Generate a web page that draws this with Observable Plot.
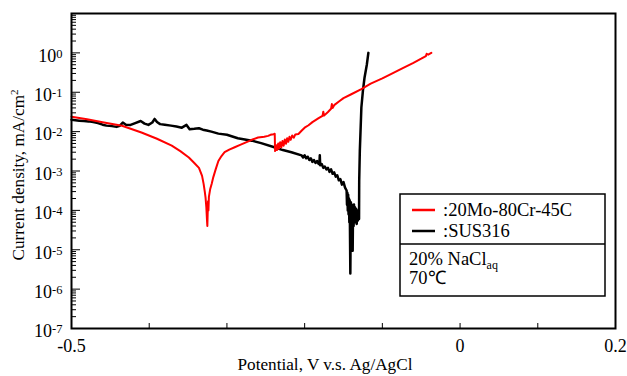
<!DOCTYPE html>
<html>
<head>
<meta charset="utf-8">
<script src="https://cdn.jsdelivr.net/npm/d3@7"></script>
<script src="https://cdn.jsdelivr.net/npm/@observablehq/plot@0.6"></script>
<style>
  html, body { margin: 0; padding: 0; background: #fff; }
  #chart svg { display: block; }
</style>
</head>
<body>
<div id="chart"></div>
<script>
// ---- Data (potential V vs. Ag/AgCl, current density mA/cm^2) ----
const redName = "20Mo-80Cr-45C";
const blackName = "SUS316";

const redV = [-0.500,-0.480,-0.460,-0.435,-0.410,-0.390,-0.371,-0.360,-0.349,-0.342,-0.336,-0.332,-0.330,-0.3285,-0.3275,-0.3265,-0.3255,-0.3252,-0.3248,-0.3243,-0.3238,-0.3232,-0.3215,-0.3195,-0.3176,-0.3145,-0.311,-0.307,-0.303,-0.297,-0.290,-0.283,-0.277,-0.268,-0.260,-0.252,-0.247,-0.244,-0.240,-0.2385,-0.2380,-0.2365,-0.2355,-0.2340,-0.2330,-0.2315,-0.2300,-0.2285,-0.2270,-0.2255,-0.2240,-0.2225,-0.2210,-0.2195,-0.2180,-0.2160,-0.2140,-0.2120,-0.208,-0.204,-0.200,-0.195,-0.190,-0.182,-0.177,-0.176,-0.175,-0.170,-0.166,-0.165,-0.164,-0.162,-0.155,-0.150,-0.140,-0.127,-0.115,-0.100,-0.089,-0.075,-0.060,-0.050,-0.044,-0.043,-0.041,-0.037];
const redI = [0.024,0.0205,0.0172,0.0141,0.0095,0.0066,0.0044,0.0032,0.0022,0.0016,0.0012,0.00075,0.00047,0.00030,0.00021,0.00012,0.00005,0.00004,0.00008,0.00017,0.00010,0.00022,0.00035,0.00048,0.00069,0.0011,0.0018,0.0024,0.0030,0.0035,0.0040,0.0046,0.0052,0.0062,0.0071,0.0074,0.0078,0.0083,0.0086,0.0088,0.0032,0.0045,0.0034,0.0050,0.0037,0.0054,0.0040,0.0058,0.0044,0.0063,0.0049,0.0068,0.0055,0.0074,0.0062,0.0080,0.0070,0.0085,0.0087,0.0105,0.0126,0.0145,0.0174,0.0219,0.0251,0.0320,0.0255,0.0316,0.0380,0.0500,0.0400,0.0470,0.0600,0.0710,0.0890,0.120,0.166,0.224,0.288,0.40,0.56,0.71,0.83,0.95,0.90,1.00];

const blackV = [-0.500,-0.495,-0.490,-0.484,-0.478,-0.472,-0.466,-0.460,-0.455,-0.448,-0.442,-0.438,-0.434,-0.430,-0.424,-0.418,-0.411,-0.406,-0.401,-0.396,-0.393,-0.390,-0.386,-0.380,-0.372,-0.365,-0.358,-0.352,-0.348,-0.342,-0.336,-0.331,-0.326,-0.320,-0.311,-0.300,-0.286,-0.268,-0.256,-0.239,-0.228,-0.217,-0.204,-0.202,-0.200,-0.198,-0.196,-0.194,-0.192,-0.190,-0.188,-0.186,-0.184,-0.182,-0.181,-0.1805,-0.1800,-0.178,-0.176,-0.174,-0.172,-0.170,-0.168,-0.166,-0.164,-0.162,-0.160,-0.158,-0.156,-0.154,-0.152,-0.150,-0.148,-0.146,-0.1455,-0.1450,-0.1445,-0.1440,-0.1435,-0.1430,-0.1425,-0.1420,-0.1412,-0.1405,-0.1400,-0.1395,-0.1388,-0.1382,-0.1377,-0.1370,-0.1365,-0.1360,-0.1352,-0.1345,-0.1338,-0.1330,-0.1322,-0.1315,-0.1308,-0.1300,-0.1298,-0.1290,-0.1270,-0.125,-0.123,-0.120,-0.118];
const blackI = [0.0200,0.0195,0.0190,0.0185,0.0182,0.0175,0.0165,0.0150,0.0142,0.0138,0.0132,0.0140,0.0170,0.0150,0.0148,0.0165,0.0186,0.0160,0.0148,0.0170,0.0210,0.0175,0.0155,0.0150,0.0142,0.0135,0.0126,0.0148,0.0115,0.0118,0.0122,0.0112,0.0107,0.0100,0.0089,0.0083,0.0068,0.0059,0.0051,0.0040,0.0034,0.0030,0.0025,0.0022,0.0025,0.0021,0.0023,0.0019,0.0021,0.0017,0.0019,0.0016,0.0018,0.0015,0.0016,0.0025,0.0014,0.0015,0.0012,0.0013,0.0011,0.0012,0.00095,0.0011,0.00085,0.00092,0.00072,0.00078,0.00058,0.00062,0.00045,0.00052,0.00038,0.00032,0.00014,0.00028,0.00010,0.00025,0.000080,0.00020,0.000050,0.00018,0.0000025,0.00016,0.000040,0.00014,0.000025,0.0000095,0.00012,0.000040,0.00014,0.000060,0.00012,0.000050,0.00011,0.000045,0.00010,0.000055,0.000070,0.00006,0.00056,0.0032,0.041,0.11,0.23,0.50,1.0];

// ---- Axis ticks ----
const xTicks = [-0.5,-0.4,-0.3,-0.2,-0.1,0,0.1,0.2];
const xTickLabels = [-0.5, 0, 0.2];
const yMajor = [1e-7,1e-6,1e-5,1e-4,1e-3,1e-2,1e-1,1e0];
const yMinor = [];
for (let e = -7; e <= 0; e++) for (let m = 2; m <= 9; m++) yMinor.push(m * Math.pow(10, e));

const red = redV.map((v, i) => ({V: v, I: redI[i]}));
const black = blackV.map((v, i) => ({V: v, I: blackI[i]}));

const font = "'Liberation Serif', 'Times New Roman', serif";

const plot = Plot.plot({
  width: 627,
  height: 376,
  marginLeft: 71,
  marginRight: 12,
  marginTop: 13,
  marginBottom: 48,
  style: {fontFamily: font, fontSize: "18px", color: "black", background: "white"},
  x: {domain: [-0.5, 0.2]},
  y: {type: "log", domain: [1e-7, 10]},
  marks: [
    Plot.line(black, {x: "V", y: "I", stroke: "black", strokeWidth: 2.5}),
    Plot.line(red, {x: "V", y: "I", stroke: "#ff0000", strokeWidth: 2}),
    // inward ticks
    Plot.axisY({ticks: yMinor, tickSize: 5, dx: 5, tickFormat: () => "", label: null}),
    Plot.axisY({ticks: yMajor, tickSize: 9, dx: 9, tickFormat: () => "", label: null}),
    Plot.axisX({ticks: xTicks, tickSize: 5, dy: -5, tickFormat: () => "", label: null}),
    // labels
    Plot.axisY({ticks: yMajor, tickSize: 0, tickPadding: 9, dy: 3, tickFormat: d => String(Math.round(Math.log10(d))), label: null}),
    Plot.axisX({ticks: xTickLabels, tickSize: 0, tickPadding: 11, tickFormat: d => String(d), label: null}),
    Plot.frame({stroke: "black", strokeWidth: 2})
  ]
});

const svg = d3.select(plot);

// superscript exponents on y tick labels
svg.selectAll('g[aria-label="y-axis tick label"] text').each(function() {
  const t = this.textContent;
  if (!t) return;
  const s = d3.select(this);
  s.text(null);
  s.append("tspan").text("10");
  s.append("tspan").attr("dy", "-4").attr("font-size", "12.5px").text(t);
});

// axis titles
svg.append("text")
  .attr("transform", "translate(24,175) rotate(-90)")
  .attr("text-anchor", "middle")
  .attr("font-family", font).attr("font-size", "17.2px").attr("fill", "black")
  .call(t => {
    t.append("tspan").text("Current density, mA/cm");
    t.append("tspan").attr("dy", "-6").attr("font-size", "11px").text("2");
  });
svg.append("text")
  .attr("x", 325).attr("y", 370)
  .attr("text-anchor", "middle")
  .attr("font-family", font).attr("font-size", "17.2px").attr("fill", "black")
  .text("Potential, V v.s. Ag/AgCl");

// legend box
const lg = svg.append("g").attr("font-family", font).attr("font-size", "18.5px")
  .attr("fill", "black").attr("text-anchor", "start");
lg.append("rect").attr("x", 400).attr("y", 194).attr("width", 205).attr("height", 102)
  .attr("fill", "white").attr("stroke", "black").attr("stroke-width", 1.5);
lg.append("line").attr("x1", 400).attr("x2", 605).attr("y1", 244).attr("y2", 244)
  .attr("stroke", "black").attr("stroke-width", 1.5);
lg.append("line").attr("x1", 412).attr("x2", 435).attr("y1", 210).attr("y2", 210)
  .attr("stroke", "#ff0000").attr("stroke-width", 2.5);
lg.append("line").attr("x1", 412).attr("x2", 435).attr("y1", 231).attr("y2", 231)
  .attr("stroke", "black").attr("stroke-width", 2.5);
lg.append("text").attr("x", 443).attr("y", 216).attr("text-anchor", "start").text(":" + redName);
lg.append("text").attr("x", 443).attr("y", 237).attr("text-anchor", "start").text(":" + blackName);
lg.append("text").attr("x", 409).attr("y", 265).attr("text-anchor", "start").call(t => {
  t.append("tspan").text("20% NaCl");
  t.append("tspan").attr("dy", "4").attr("font-size", "12px").text("aq");
});
lg.append("text").attr("x", 409).attr("y", 284).attr("text-anchor", "start").text("70\u2103");

document.getElementById("chart").appendChild(plot);
</script>
</body>
</html>
